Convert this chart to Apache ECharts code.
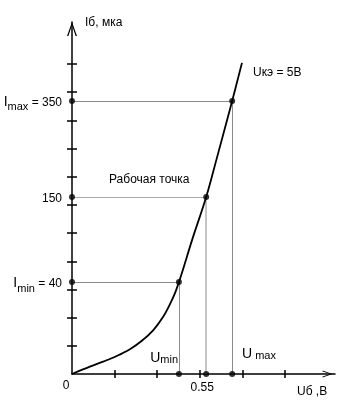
<!DOCTYPE html>
<html>
<head>
<meta charset="utf-8">
<script src="https://cdn.jsdelivr.net/npm/echarts@6/dist/echarts.min.js"></script>
<style>html,body{margin:0;padding:0;background:#fff}#c{width:346px;height:407px}</style>
</head>
<body>
<div id="c"></div>
<script>
// Schematic axes: values are in tick units (x: 1 unit per tick, y: 1 unit per tick)
const curveU = [0, 0.42, 0.73, 1.05, 1.36, 1.64, 1.91, 2.14, 2.30, 2.42, 2.51, 2.60, 2.82, 3.15, 3.40, 3.76, 3.99];
const curveI = [0, 0.26, 0.44, 0.64, 0.88, 1.18, 1.56, 2.03, 2.48, 2.88, 3.26, 3.68, 4.76, 6.28, 7.66, 9.69, 11.04];
const keyU = [2.51, 3.15, 3.76];          // Umin, 0.55, Umax
const keyI = [3.26, 6.28, 9.69];          // Imin=40, 150, Imax=350
const yTickValues = [1,2,3,4,5,6,7,8,9,10,11];
const xTickValues = [1,2,3,4,5];
const yLabels = ['{i|I}{s|min}{t| = 40}', '{t|150}', '{i|I}{s|max}{t| = 350}'];
const xLabels = ['0.55'];

const FONT = '"Liberation Sans", Arial, sans-serif';
const chart = echarts.init(document.getElementById('c'), null, {renderer: 'canvas'});

const chevron = 'path://M5,0 L10,14 L8.6,14 L5,3.2 L1.4,14 L0,14 Z';

function lineSeg(a, b, color, w) {
  return [{coord: a, lineStyle: {color: color, width: w, type: 'solid'}}, {coord: b}];
}
const guideLines = [
  lineSeg([0, keyI[0]], [keyU[0], keyI[0]], '#8a8a8a', 1),
  lineSeg([keyU[0], keyI[0]], [keyU[0], 0], '#8a8a8a', 1),
  lineSeg([0, keyI[1]], [keyU[1], keyI[1]], '#a8a8a8', 1),
  lineSeg([keyU[1], keyI[1]], [keyU[1], 0], '#c4c4c4', 2),
  lineSeg([0, keyI[2]], [keyU[2], keyI[2]], '#8a8a8a', 1),
  lineSeg([keyU[2], keyI[2]], [keyU[2], 0], '#8a8a8a', 1)
];
const dots = [];
for (let k = 0; k < keyU.length; k++) {
  dots.push([keyU[k], keyI[k]]);
  dots.push([0, keyI[k]]);
  dots.push([keyU[k], 0]);
}

const baseAxisX = {
  type: 'value', min: 0, max: 6.174, interval: 1, position: 'bottom', offset: 0,
  splitLine: {show: false},
  axisLine: {show: false},
  axisLabel: {show: false}
};
const baseAxisY = {
  type: 'value', min: 0, max: 12.49, interval: 1, position: 'left', offset: 0,
  splitLine: {show: false},
  axisLine: {show: false},
  axisLabel: {show: false}
};

chart.setOption({
  animation: false,
  backgroundColor: '#fff',
  grid: {left: 72, right: 11, top: 22, bottom: 33, containLabel: false, outerBoundsMode: 'none'},
  xAxis: [
    Object.assign({}, baseAxisX, {
      axisLine: {show: true, onZero: false, symbol: ['none', chevron], symbolSize: [7, 15], symbolOffset: [0, -7.5], lineStyle: {color: '#000', width: 1.5}},
      axisTick: {show: true, inside: false, length: 4, customValues: xTickValues, lineStyle: {color: '#000', width: 1.5}},
      axisLabel: {show: true, customValues: [keyU[1]], margin: 8, color: '#000', fontFamily: FONT, fontSize: 12, padding: [0, 8, 0, 0],
        formatter: function () { return xLabels[0]; }}
    }),
    Object.assign({}, baseAxisX, {
      axisTick: {show: true, inside: true, length: 4, customValues: xTickValues, lineStyle: {color: '#000', width: 1.5}}
    })
  ],
  yAxis: [
    Object.assign({}, baseAxisY, {
      axisLine: {show: true, onZero: false, symbol: ['none', chevron], symbolSize: [10, 14], symbolOffset: [0, -7], lineStyle: {color: '#000', width: 1.5}},
      axisTick: {show: true, inside: false, length: 5, customValues: yTickValues, lineStyle: {color: '#000', width: 1.5}},
      axisLabel: {show: true, customValues: keyI, margin: 10, color: '#000',
        formatter: function (v) {
          let best = 0;
          for (let k = 0; k < keyI.length; k++) if (Math.abs(keyI[k] - v) < Math.abs(keyI[best] - v)) best = k;
          return yLabels[best];
        },
        rich: {
          i: {fontFamily: FONT, fontSize: 14, color: '#000', verticalAlign: 'bottom', lineHeight: 16},
          s: {fontFamily: FONT, fontSize: 11, color: '#000', verticalAlign: 'bottom', lineHeight: 16, padding: [0, 0, -4, 0]},
          t: {fontFamily: FONT, fontSize: 12, color: '#000', verticalAlign: 'bottom', lineHeight: 16}
        }
      }
    }),
    Object.assign({}, baseAxisY, {
      axisTick: {show: true, inside: true, length: 5, customValues: yTickValues, lineStyle: {color: '#000', width: 1.5}}
    })
  ],
  series: [
    {
      type: 'line', xAxisIndex: 0, yAxisIndex: 0,
      data: [], silent: true,
      markLine: {silent: true, symbol: ['none', 'none'], label: {show: false}, lineStyle: {type: 'solid'}, data: guideLines, animation: false}
    },
    {
      type: 'line', xAxisIndex: 0, yAxisIndex: 0,
      data: curveU.map((u, k) => [u, curveI[k]]),
      smooth: 0.35, showSymbol: false, symbol: 'none',
      lineStyle: {color: '#000', width: 1.8}, z: 5
    },
    {
      type: 'scatter', xAxisIndex: 0, yAxisIndex: 0,
      data: dots, symbol: 'circle', symbolSize: 6,
      itemStyle: {color: '#000'}, z: 6
    }
  ],
  graphic: [
    {type: 'text', x: 85, y: 23, style: {text: 'Iб, мка', font: '12px ' + FONT, fill: '#000', verticalAlign: 'middle'}},
    {type: 'text', x: 253, y: 73, style: {text: 'Uкэ = 5В', font: '12px ' + FONT, fill: '#000', verticalAlign: 'middle'}},
    {type: 'text', x: 109, y: 180, style: {text: 'Рабочая точка', font: '12px ' + FONT, fill: '#000', verticalAlign: 'middle'}},
    {type: 'text', x: 66, y: 386, style: {text: '0', font: '12px ' + FONT, fill: '#000', align: 'center', verticalAlign: 'middle'}},
    {type: 'text', x: 297, y: 392, style: {text: 'Uб ,В', font: '12px ' + FONT, fill: '#000', verticalAlign: 'middle'}},
    {type: 'text', x: 178, y: 365, style: {text: '{u|U}{s|min}', align: 'right', verticalAlign: 'bottom',
      rich: {u: {fontFamily: FONT, fontSize: 14, fill: '#000', verticalAlign: 'bottom', lineHeight: 15},
             s: {fontFamily: FONT, fontSize: 11, fill: '#000', verticalAlign: 'bottom', lineHeight: 15}}}},
    {type: 'text', x: 242, y: 361, style: {text: '{u|U}{s| max}', align: 'left', verticalAlign: 'bottom',
      rich: {u: {fontFamily: FONT, fontSize: 14, fill: '#000', verticalAlign: 'bottom', lineHeight: 15},
             s: {fontFamily: FONT, fontSize: 11, fill: '#000', verticalAlign: 'bottom', lineHeight: 15}}}}
  ]
});
</script>
</body>
</html>
